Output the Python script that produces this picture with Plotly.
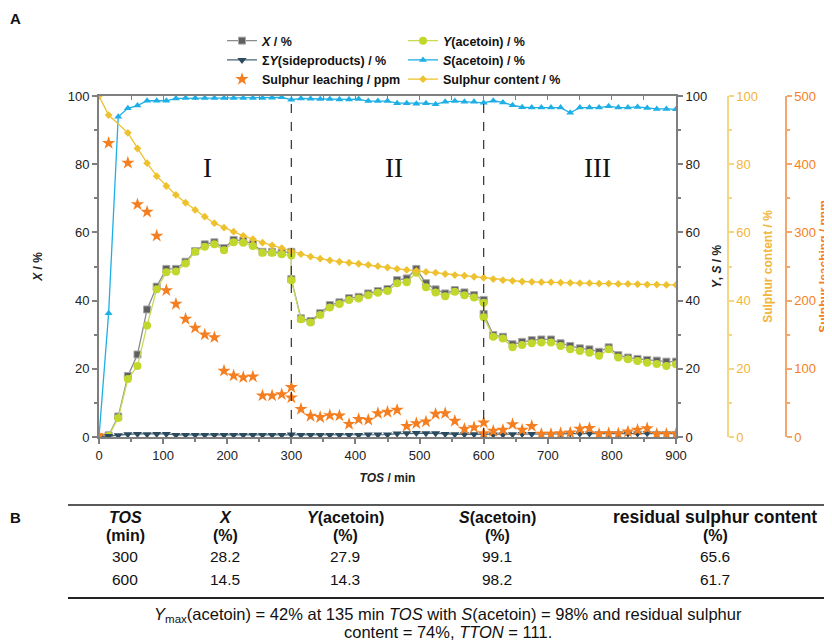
import plotly.graph_objects as go

# ---------------- data ----------------
t_xy = [0, 15, 30, 45, 60, 75, 90, 105, 120, 135, 150, 165, 180, 195, 210, 225, 240, 255, 270, 285, 300,
        300, 315, 330, 345, 360, 375, 390, 405, 420, 435, 450, 465, 480, 495, 510, 525, 540, 555, 570, 585, 600,
        600, 615, 630, 645, 660, 675, 690, 705, 720, 735, 750, 765, 780, 795, 810, 825, 840, 855, 870, 885, 900]
conv_X = [0, 0.5, 6.0, 17.9, 24.2, 37.4, 44.1, 49.3, 49.3, 51.4, 54.5, 56.5, 57.1, 55.4, 57.8, 57.6, 56.6, 54.3, 54.3, 54.1, 54.3,
          46.3, 34.8, 34.0, 36.3, 38.7, 39.5, 40.7, 41.1, 42.1, 42.8, 43.4, 46.0, 46.5, 49.3, 45.1, 43.3, 42.1, 43.1, 42.4, 41.6, 40.2,
          36.1, 29.9, 29.4, 27.2, 27.9, 28.4, 28.6, 28.6, 27.5, 26.7, 26.0, 25.7, 25.0, 26.3, 24.0, 23.3, 22.9, 22.6, 22.4, 22.1, 22.1]
yield_acetoin = [0, 0.3, 5.6, 17.0, 20.8, 32.7, 43.3, 48.3, 48.5, 50.9, 54.3, 55.8, 56.5, 54.8, 57.1, 57.0, 56.0, 54.0, 54.0, 53.6, 53.2,
                 46.0, 34.5, 33.6, 35.8, 38.0, 39.0, 40.2, 40.6, 41.6, 42.3, 42.8, 45.1, 45.4, 48.2, 43.9, 42.4, 41.3, 42.6, 41.6, 40.9, 39.4,
                 35.1, 29.4, 28.9, 26.3, 27.0, 27.5, 27.7, 27.7, 26.7, 25.7, 25.2, 24.7, 23.8, 25.7, 23.3, 22.8, 22.3, 21.8, 21.4, 20.8, 21.3]

t_15 = [0, 15, 30, 45, 60, 75, 90, 105, 120, 135, 150, 165, 180, 195, 210, 225, 240, 255, 270, 285, 300,
        315, 330, 345, 360, 375, 390, 405, 420, 435, 450, 465, 480, 495, 510, 525, 540, 555, 570, 585, 600,
        615, 630, 645, 660, 675, 690, 705, 720, 735, 750, 765, 780, 795, 810, 825, 840, 855, 870, 885, 900]
sum_sideproducts = [0, 0.3, 0.5, 0.8, 0.9, 0.8, 0.9, 0.9, 0.6, 0.6, 0.6, 0.6, 0.6, 0.6, 0.6, 0.6, 0.6, 0.6, 0.6, 0.6, 0.7,
                    0.6, 0.6, 0.6, 0.6, 0.6, 0.6, 0.6, 0.7, 0.7, 0.7, 1.0, 1.1, 1.2, 1.1, 1.1, 0.9, 0.8, 0.8, 0.8, 0.8,
                    0.7, 0.7, 0.8, 0.9, 0.9, 0.9, 0.9, 0.9, 1.0, 1.0, 1.0, 1.0, 1.0, 1.0, 1.0, 1.0, 1.1, 1.0, 1.0, 1.0]
sel_acetoin = [0, 36.3, 93.9, 96.4, 97.2, 98.6, 98.6, 98.6, 99.3, 99.4, 99.4, 99.4, 99.4, 99.4, 99.4, 99.4, 99.4, 99.4, 99.5, 99.6, 98.9,
               99.3, 99.2, 99.1, 99.1, 99.0, 99.0, 99.1, 98.5, 98.5, 98.5, 97.9, 97.9, 97.7, 97.9, 97.6, 98.3, 98.5, 98.3, 98.3, 98.0,
               98.6, 98.1, 97.3, 96.7, 96.6, 96.6, 96.6, 96.6, 95.1, 96.6, 96.6, 96.6, 97.0, 96.6, 96.6, 96.8, 96.5, 96.2, 96.2, 96.1]

t_content = [0, 15, 45, 60, 75, 90, 105, 120, 135, 150, 165, 180, 195, 210, 225, 240, 255, 270, 285, 300,
             315, 330, 345, 360, 375, 390, 405, 420, 435, 450, 465, 480, 495, 510, 525, 540, 555, 570, 585, 600,
             615, 630, 645, 660, 675, 690, 705, 720, 735, 750, 765, 780, 795, 810, 825, 840, 855, 870, 885, 900]
sulphur_content = [100, 94.4, 89.2, 84.6, 80.3, 76.5, 73.6, 71.0, 68.7, 66.6, 64.6, 62.7, 61.4, 60.2, 59.0, 58.0, 57.0, 56.2, 55.4, 54.5,
                   53.6, 52.9, 52.3, 51.8, 51.4, 51.1, 50.8, 50.5, 50.1, 49.7, 49.3, 49.0, 48.7, 48.4, 48.2, 47.8, 47.5, 47.3, 47.0, 46.7,
                   46.3, 46.0, 45.8, 45.6, 45.5, 45.4, 45.4, 45.3, 45.2, 45.1, 45.1, 45.0, 45.0, 44.9, 44.9, 44.8, 44.7, 44.7, 44.6, 44.6]

t_leach = [0, 15, 45, 60, 75, 90, 105, 120, 135, 150, 165, 180, 195, 210, 225, 240, 255, 270, 285, 300, 300,
           315, 330, 345, 360, 375, 390, 405, 420, 435, 450, 465, 480, 495, 510, 525, 540, 555, 570, 585, 600, 600,
           615, 630, 645, 660, 675, 690, 705, 720, 735, 750, 765, 780, 795, 810, 825, 840, 855, 870, 885, 900]
sulphur_leaching = [2, 431, 402, 341, 330, 295, 215, 195, 173, 160, 150, 146, 97, 90, 87.5, 88.5, 60.6, 60.6, 62.6, 72.9, 57.7,
                    41, 30.8, 29, 31.8, 31.3, 19, 26, 25, 34.7, 36.7, 39.6, 16, 20, 22.5, 33.7, 34.7, 23.5, 11.7, 14.2, 21, 5.4,
                    8.8, 10.3, 18.6, 10.3, 16, 4.4, 4.4, 5.4, 6.4, 11.7, 13, 4.4, 5.4, 5, 7.8, 10.3, 12.7, 4.4, 4.4, 4.4]

regime_labels = ["I", "II", "III"]
regime_pos = [170, 460, 778]
regime_boundaries = [300, 600]

table_header1 = ["<i>TOS</i>", "<i>X</i>", "<i>Y</i>(acetoin)", "<i>S</i>(acetoin)", "residual sulphur content"]
table_header2 = ["(min)", "(%)", "(%)", "(%)", "(%)"]
table_rows = [["300", "28.2", "27.9", "99.1", "65.6"],
              ["600", "14.5", "14.3", "98.2", "61.7"]]
footnote = ["<i>Y</i><sub>max</sub>(acetoin) = 42% at 135 min <i>TOS</i> with <i>S</i>(acetoin) = 98% and residual sulphur",
            "content = 74%, <i>TTON</i> = 111."]

# ---------------- layout geometry (page pixels; page has an 8px body margin) ----------------
W, H = 832, 641
OFF = 8
PL, PR, PT, PB = 99, 676, 96, 437
ML, MT = PL - OFF, PT - OFF
MB = H - (PB - OFF)
GW = W - ML
GH = PB - PT


def px(x):
    return (x - PL) / GW


def py(y):
    return (PB - y) / GH


FONT = "Liberation Sans, Arial, sans-serif"
TFONT = "Liberation Sans Narrow, Arial Narrow, Liberation Sans, Arial, sans-serif"
GRAY = "#7f7f7f"
C_X = "#5f5f5f"
C_Y = "#C2D72C"
C_SIDE = "#2C4A5E"
C_S = "#1DAFE5"
C_LEACH = "#F57F20"
C_CONT = "#EEC12F"
C_CONT_AX = "#F7D681"
C_CONT_TXT = "#F2B53A"
C_LEACH_AX = "#F7A66A"

fig = go.Figure()

fig.add_trace(go.Scatter(x=t_xy, y=conv_X, mode="lines+markers", name="<b><i>X</i> / %</b>",
                         line=dict(color="#8c8c8c", width=1.3),
                         marker=dict(symbol="square", size=7, color=C_X, line=dict(color="#a8a8a8", width=1)),
                         yaxis="y", legend="legend"))
fig.add_trace(go.Scatter(x=t_xy, y=yield_acetoin, mode="lines+markers", name="<b><i>Y</i>(acetoin) / %</b>",
                         line=dict(color="#C9DB55", width=1.3),
                         marker=dict(symbol="circle", size=8, color=C_Y),
                         yaxis="y2", legend="legend2"))
fig.add_trace(go.Scatter(x=t_15, y=sum_sideproducts, mode="lines+markers", name="<b>Σ<i>Y</i>(sideproducts) / %</b>",
                         line=dict(color="#4d6a7d", width=1.3),
                         marker=dict(symbol="triangle-down", size=8, color=C_SIDE),
                         yaxis="y2", legend="legend"))
fig.add_trace(go.Scatter(x=t_15, y=sel_acetoin, mode="lines+markers", name="<b><i>S</i>(acetoin) / %</b>",
                         line=dict(color=C_S, width=1.3),
                         marker=dict(symbol="triangle-up", size=7, color=C_S),
                         yaxis="y2", legend="legend2"))
fig.add_trace(go.Scatter(x=t_content, y=sulphur_content, mode="lines+markers", name="<b>Sulphur content / %</b>",
                         line=dict(color=C_CONT, width=1.3),
                         marker=dict(symbol="diamond", size=6, color=C_CONT),
                         yaxis="y3", legend="legend2"))
fig.add_trace(go.Scatter(x=t_leach, y=sulphur_leaching, mode="markers", name="<b>Sulphur leaching / ppm</b>",
                         marker=dict(symbol="star", size=10, color=C_LEACH, line=dict(width=0)),
                         yaxis="y4", legend="legend"))

for b in regime_boundaries:
    fig.add_shape(type="line", xref="x", yref="y", x0=b, x1=b, y0=0, y1=100,
                  line=dict(color="#333333", width=1.2, dash="dash"))

for lab, xp in zip(regime_labels, regime_pos):
    fig.add_annotation(x=xp, y=79, xref="x", yref="y", text=lab, showarrow=False,
                       xanchor="center", yanchor="middle",
                       font=dict(family="Liberation Serif, Times New Roman, serif", size=27, color="#111"))


def ptext(x, y, text, size, family=FONT, color="#111"):
    fig.add_annotation(x=px(x), y=py(y), xref="paper", yref="paper", text=text, showarrow=False,
                       xanchor="center", yanchor="middle", font=dict(family=family, size=size, color=color))


# panel labels
ptext(15, 18, "<b>A</b>", 15)
ptext(15, 517, "<b>B</b>", 15)

# table
col_x = [125, 225, 345, 497, 715]
for i, cx in enumerate(col_x):
    hsize = 17.5 if i == 4 else 16
    ptext(cx, 517, "<b>" + table_header1[i] + "</b>", hsize, TFONT)
    ptext(cx, 535, "<b>" + table_header2[i] + "</b>", 16, TFONT)
    for r, ry in zip(table_rows, [556, 579]):
        ptext(cx, ry, r[i], 15.5, TFONT)
for line_txt, ly in zip(footnote, [615, 632]):
    ptext(448, ly, line_txt, 16.5, TFONT)
fig.add_shape(type="line", xref="paper", yref="paper", x0=px(68), x1=px(829), y0=py(505), y1=py(505),
              line=dict(color="#222", width=1.5))
fig.add_shape(type="line", xref="paper", yref="paper", x0=px(68), x1=px(829), y0=py(598), y1=py(598),
              line=dict(color="#222", width=2.2))

tickfont = dict(family=FONT, size=13, color="#222")
titlefont = dict(family=FONT, size=12, color="#222")

fig.update_layout(
    width=W, height=H,
    margin=dict(l=ML, r=0, t=MT, b=MB, autoexpand=False),
    template="none",
    paper_bgcolor="white", plot_bgcolor="white",
    showlegend=True,
    xaxis=dict(domain=[0, px(PR)], range=[0, 900], dtick=100, ticks="outside", ticklen=5, tickwidth=1.5,
               tickcolor=GRAY, showline=True, linecolor=GRAY, linewidth=2, showgrid=False, zeroline=False,
               tickfont=tickfont, automargin=False,
               minor=dict(dtick=50, ticks="outside", ticklen=3, tickcolor=GRAY, showgrid=False),
               title=dict(text="<b><i>TOS</i> / min</b>", font=titlefont, standoff=12), anchor="y"),
    xaxis2=dict(overlaying="x", side="top", range=[0, 900], dtick=50, ticks="inside", ticklen=4,
                tickcolor=GRAY, showline=True, linecolor=GRAY, linewidth=2, showgrid=False, zeroline=False,
                showticklabels=False, anchor="y", automargin=False),
    yaxis=dict(domain=[0, 1], range=[0, 100], dtick=20, ticks="outside", ticklen=5, tickwidth=1.5, tickcolor=GRAY,
               showline=True, linecolor=GRAY, linewidth=2, showgrid=False, zeroline=False, tickfont=tickfont,
               minor=dict(dtick=10, ticks="outside", ticklen=3, tickcolor=GRAY, showgrid=False),
               title=dict(text="<b><i>X</i> / %</b>", font=titlefont, standoff=22), automargin=False),
    yaxis2=dict(overlaying="y", side="right", anchor="x", range=[0, 100], dtick=20, ticks="outside", ticklen=5,
                tickwidth=1.5, tickcolor=GRAY, showline=True, linecolor=GRAY, linewidth=2, showgrid=False,
                zeroline=False, tickfont=tickfont,
                minor=dict(dtick=10, ticks="outside", ticklen=3, tickcolor=GRAY, showgrid=False),
                title=dict(text="<b><i>Y</i>, <i>S</i> / %</b>", font=titlefont, standoff=6), automargin=False),
    yaxis3=dict(overlaying="y", side="right", anchor="free", position=px(728), range=[0, 100], dtick=20,
                ticks="outside", ticklen=5, tickwidth=1.5, tickcolor=C_CONT_AX, showline=True, linecolor=C_CONT_AX,
                linewidth=1.5, showgrid=False, zeroline=False,
                tickfont=dict(family=FONT, size=13, color=C_CONT_TXT),
                minor=dict(dtick=10, ticks="outside", ticklen=3, tickcolor=C_CONT_AX, showgrid=False),
                title=dict(text="<b>Sulphur content / %</b>", font=dict(family=FONT, size=12, color=C_CONT_TXT),
                           standoff=6), automargin=False),
    yaxis4=dict(overlaying="y", side="right", anchor="free", position=px(786), range=[0, 500], dtick=100,
                ticks="outside", ticklen=5, tickwidth=1.5, tickcolor=C_LEACH_AX, showline=True, linecolor=C_LEACH_AX,
                linewidth=1.5, showgrid=False, zeroline=False,
                tickfont=dict(family=FONT, size=13, color=C_LEACH),
                minor=dict(dtick=50, ticks="outside", ticklen=3, tickcolor=C_LEACH_AX, showgrid=False),
                title=dict(text="<b>Sulphur leaching / ppm</b>", font=dict(family=FONT, size=12, color=C_LEACH),
                           standoff=4), automargin=False),
    legend=dict(x=px(222), y=py(26), xanchor="left", yanchor="top", bgcolor="rgba(0,0,0,0)",
                font=dict(family=FONT, size=12.5, color="#111"), itemwidth=30, tracegroupgap=0),
    legend2=dict(x=px(403), y=py(26), xanchor="left", yanchor="top", bgcolor="rgba(0,0,0,0)",
                 font=dict(family=FONT, size=12.5, color="#111"), itemwidth=30, tracegroupgap=0),
)

# attach top mirror axis (dummy invisible trace)
fig.add_trace(go.Scatter(x=[None], y=[None], xaxis="x2", yaxis="y", showlegend=False, hoverinfo="skip"))

fig.write_html("out.html")
